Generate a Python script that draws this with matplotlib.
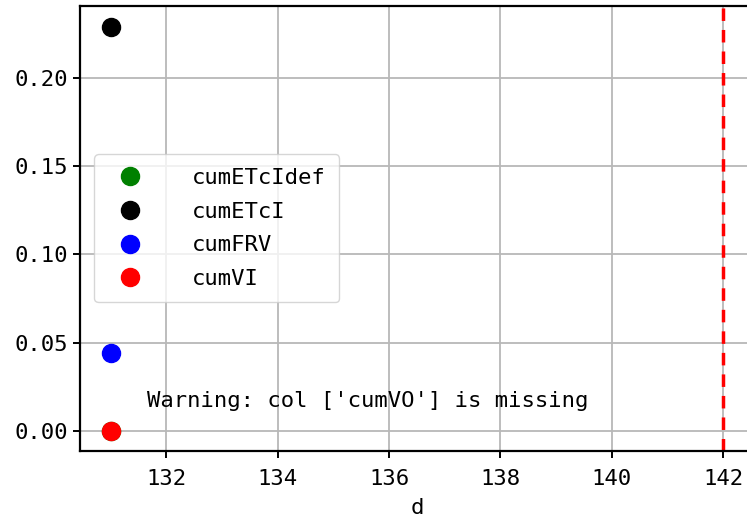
import matplotlib
matplotlib.use("Agg")
import matplotlib.pyplot as plt
import numpy as np

# === Datos ===
days = [131]
series = ["cumETcIdef", "cumETcI", "cumFRV", "cumVI"]
values = {
    "cumETcIdef": [0.0],
    "cumETcI": [0.229],
    "cumFRV": [0.044],
    "cumVI": [0.0],
}
colors = {"cumETcIdef": "green", "cumETcI": "black", "cumFRV": "blue", "cumVI": "red"}
end_day = 142
missing_col = ["cumVO"]

plt.rcParams["font.family"] = ["DejaVu Sans Mono"]
plt.rcParams["font.size"] = 16

# === Figura ===
fig = plt.figure(figsize=(7.47, 5.22), dpi=100)
ax = fig.add_axes([80 / 747, (522 - 451.3) / 522, (753.7 - 80) / 747, (451.3 - 5.6) / 522])

for name in series:
    ax.plot(days, values[name], "o", color=colors[name], markersize=13, label=name)

ax.axvline(end_day, color="red", linestyle=(0, (3.6, 2.6)), linewidth=2.5)

ax.set_xlim(130.45, 142.55)
ax.set_ylim(-0.0115, 0.241)
ax.set_xticks(np.arange(132, 143, 2))
ax.set_yticks([0.0, 0.05, 0.10, 0.15, 0.20])
ax.yaxis.set_major_formatter(matplotlib.ticker.FormatStrFormatter("%.2f"))
ax.grid(True, color="#b8b8b8", linewidth=1.3)
ax.set_axisbelow(True)
for sp in ax.spines.values():
    sp.set_linewidth(1.6)
ax.tick_params(width=1.4, length=5, labelsize=16)
ax.tick_params(axis="x", pad=8)
ax.set_xlabel("d", fontsize=16, labelpad=6)

ax.text(0.1, 0.1, f"Warning: col {missing_col} is missing", transform=ax.transAxes,
        fontsize=16)

ax.legend(loc="center left", handletextpad=1.8, labelspacing=0.62, borderpad=0.6,
          borderaxespad=0.65, fontsize=16, framealpha=0.8)

fig.savefig("out.png", dpi=100)
